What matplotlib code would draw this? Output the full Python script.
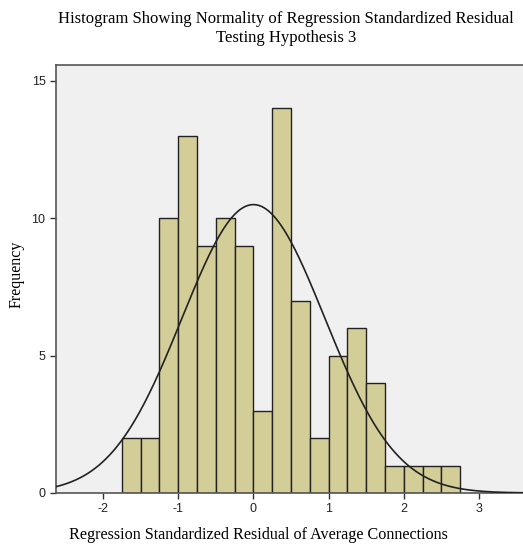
import numpy as np
import matplotlib
matplotlib.use('Agg')
import matplotlib.pyplot as plt

plt.rcParams['axes.unicode_minus'] = False

# histogram of standardized residuals (bin width 0.25)
bin_edges = np.arange(-1.75, 2.75 + 0.001, 0.25)
counts = [2, 2, 10, 13, 9, 10, 9, 3, 14, 7, 2, 5, 6, 4, 1, 1, 1, 1]
mean_res = 0.0
sd_res = 0.95
n_obs = sum(counts)

x_ticks = [-2, -1, 0, 1, 2, 3]
y_ticks = [0, 5, 10, 15]

fig = plt.figure(figsize=(5.23, 5.48), dpi=100)
ax = fig.add_axes([0.107, 0.1004, 0.895, 0.781])
ax.set_facecolor('#f0f0f0')

widths = np.diff(bin_edges)
ax.bar(bin_edges[:-1], counts, width=widths, align='edge',
       color='#d3ce98', edgecolor='#222222', linewidth=1.0, zorder=2)

# fitted normal curve
xs = np.linspace(-2.7, 3.7, 400)
bw = widths[0]
ys = n_obs * bw / (sd_res * np.sqrt(2 * np.pi)) * np.exp(-0.5 * ((xs - mean_res) / sd_res) ** 2)
ax.plot(xs, ys, color='#222222', linewidth=1.2, zorder=3)

ax.set_xlim(-2.627, 3.6)
ax.set_ylim(0, 15.58)
ax.set_xticks(x_ticks)
ax.set_yticks(y_ticks)
ax.tick_params(labelsize=9, length=4, width=1, color='#333333', labelcolor='#222222')
for lab in ax.get_xticklabels() + ax.get_yticklabels():
    lab.set_family('Liberation Sans')
for side in ['left', 'bottom', 'top']:
    ax.spines[side].set_color('#555555')
    ax.spines[side].set_linewidth(1.2)
ax.spines['right'].set_visible(False)

fig.text(0.547, 0.948, 'Histogram Showing Normality of Regression Standardized Residual\nTesting Hypothesis 3',
         ha='center', va='center', fontsize=12, family='Liberation Serif', linespacing=1.3)
fig.text(0.494, 0.024, 'Regression Standardized Residual of Average Connections',
         ha='center', va='center', fontsize=11.6, family='Liberation Serif')
fig.text(0.032, 0.5, 'Frequency', ha='center', va='center', rotation=90,
         fontsize=11.5, family='Liberation Serif')

fig.savefig('out.png', dpi=100)
